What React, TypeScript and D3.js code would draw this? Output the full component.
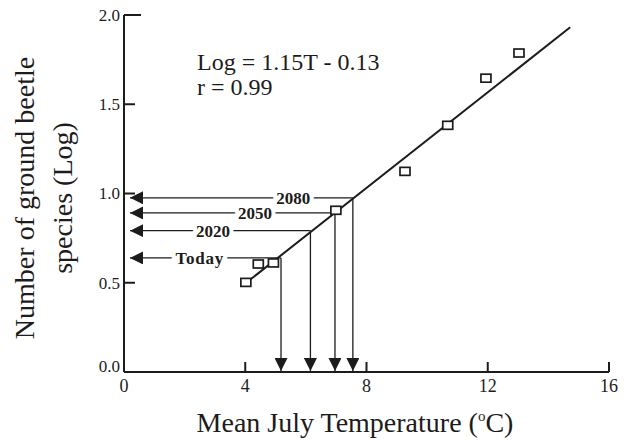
import React from 'react';
import * as d3 from 'd3';

// observed sites: mean July temperature (C) vs log number of ground beetle species
const temps = [4.02, 4.43, 4.93, 6.99, 9.27, 10.68, 11.94, 13.03];
const logSpecies = [0.502, 0.605, 0.611, 0.906, 1.124, 1.382, 1.646, 1.787];

// fitted line (axis units) and where it is drawn
const fitSlope = 0.1339;
const fitIntercept = -0.04;
const fitRange = [3.95, 14.72];

// climate scenarios
const scenarios = ['Today', '2020', '2050', '2080'];
const scenarioTemps = [5.18, 6.15, 6.96, 7.55];
const scenarioLogs = [0.639, 0.792, 0.891, 0.976];
const scenarioLabelAt = [2.5, 2.94, 4.32, 5.58];

const xTicks = [0, 4, 8, 12, 16];
const yTicks = [0, 0.5, 1.0, 1.5, 2.0];

const W = 634;
const H = 442;
const ink = '#1c1c1c';
const serif = '"Liberation Serif", "Times New Roman", serif';

export default function App() {
  const x = d3.scaleLinear().domain([0, 16]).range([124, 609]);
  const y = d3.scaleLinear().domain([0, 2]).range([372, 15]);

  const fitLine = d3.line<number>()
    .x(t => x(t))
    .y(t => y(fitSlope * t + fitIntercept));

  return (
    <svg width={W} height={H} style={{ position: 'absolute', left: 0, top: 0, background: '#fff' }}
      fontFamily={serif}>
      <defs>
        <marker id="head" viewBox="0 0 12 12" refX="12" refY="6" markerWidth="13" markerHeight="13"
          markerUnits="userSpaceOnUse" orient="auto">
          <path d="M0,0 L12,6 L0,12 z" fill={ink} />
        </marker>
      </defs>

      {/* axes */}
      <line x1={x(0)} x2={x(0)} y1={y(2)} y2={y(0)} stroke={ink} strokeWidth={2} />
      <line x1={x(0)} x2={x(16)} y1={y(0)} y2={y(0)} stroke={ink} strokeWidth={2} />
      {yTicks.filter(v => v > 0).map(v => (
        <line key={'yt' + v} x1={x(0)} x2={x(0) + (v === 2 ? 17 : 11)} y1={y(v)} y2={y(v)}
          stroke={ink} strokeWidth={2} />
      ))}
      {xTicks.filter(v => v > 0).map(v => (
        <line key={'xt' + v} x1={x(v)} x2={x(v)} y1={y(0)} y2={y(0) - 10} stroke={ink} strokeWidth={2} />
      ))}
      {yTicks.map(v => (
        <text key={'yl' + v} x={x(0) - 4} y={v === 0 ? y(v) - 6 : y(v)} dy="0.35em" textAnchor="end"
          fontSize={17} fill={ink}>{v.toFixed(1)}</text>
      ))}
      {xTicks.map(v => (
        <text key={'xl' + v} x={x(v)} y={392} textAnchor="middle" fontSize={18} fill={ink}>{v}</text>
      ))}

      {/* axis titles */}
      <text x={355} y={432} textAnchor="middle" fontSize={28} fill={ink}>
        Mean July Temperature (<tspan fontSize={15} dy={-11}>o</tspan><tspan dy={11}>C)</tspan>
      </text>
      <g transform="translate(0,198) rotate(-90)">
        <text x={0} y={34} textAnchor="middle" fontSize={28} fill={ink}>Number of ground beetle</text>
        <text x={0} y={72} textAnchor="middle" fontSize={28} fill={ink}>species (Log)</text>
      </g>

      {/* equation */}
      <text x={197} y={70} fontSize={24} fill={ink}>Log = 1.15T - 0.13</text>
      <text x={197} y={95} fontSize={24} fill={ink}>r = 0.99</text>

      {/* regression line */}
      <path d={fitLine(fitRange) || ''} fill="none" stroke={ink} strokeWidth={2} />

      {/* scenario arrows */}
      {scenarios.map((s, i) => (
        <g key={s}>
          <line x1={x(scenarioTemps[i])} x2={x(0) + 6} y1={y(scenarioLogs[i])} y2={y(scenarioLogs[i])}
            stroke={ink} strokeWidth={1.3} markerEnd="url(#head)" />
          <line x1={x(scenarioTemps[i])} x2={x(scenarioTemps[i])} y1={y(scenarioLogs[i])} y2={y(0) - 1}
            stroke={ink} strokeWidth={1.3} markerEnd="url(#head)" />
          <text x={x(scenarioLabelAt[i])} y={y(scenarioLogs[i])} dy="0.35em" textAnchor="middle"
            fontSize={17} fontWeight="bold" fill={ink} stroke="#fff" strokeWidth={8}
            paintOrder="stroke" letterSpacing={s === 'Today' ? 0.8 : 0}>{s}</text>
        </g>
      ))}

      {/* data squares */}
      {temps.map((t, i) => (
        <rect key={'p' + i} x={x(t) - 5} y={y(logSpecies[i]) - 4} width={10} height={8}
          fill="#fff" stroke={ink} strokeWidth={1.7} />
      ))}
    </svg>
  );
}
